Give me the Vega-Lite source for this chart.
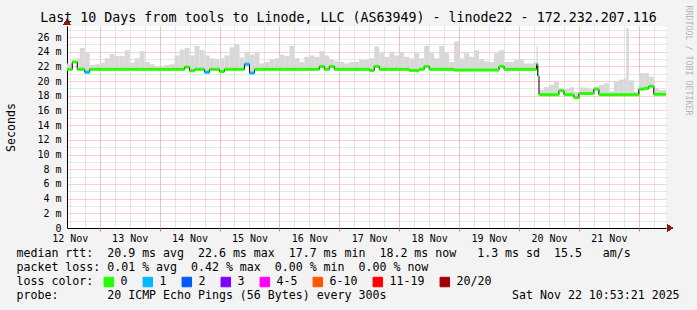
{
  "$schema": "https://vega.github.io/schema/vega-lite/v6.json",
  "width": 599,
  "height": 202,
  "autosize": {"type": "none"},
  "padding": {"left": 67, "top": 26, "right": 31, "bottom": 82},
  "background": "#f3f3f3",
  "title": {
    "text": "Last 10 Days from tools to Linode, LLC (AS63949) - linode22 - 172.232.207.116",
    "font": "DejaVu Sans Mono",
    "fontSize": 13.3,
    "fontWeight": "normal",
    "color": "#000000",
    "anchor": "middle",
    "frame": "bounds",
    "offset": -19
  },
  "config": {
    "view": {"fill": "#ffffff", "stroke": null},
    "font": "DejaVu Sans Mono",
    "axis": {"labelFont": "DejaVu Sans Mono", "titleFont": "DejaVu Sans Mono", "labelColor": "#000000", "titleColor": "#000000", "titleFontWeight": "normal"}
  },
  "data": {
    "values": [
      {"t": "2025-11-12T10:00", "t2": "2025-11-12T12:00", "med": 21.6, "hi": 22.4, "loss": "0"},
      {"t": "2025-11-12T12:00", "t2": "2025-11-12T13:00", "med": 21.6, "hi": 22.4, "loss": "0"},
      {"t": "2025-11-12T13:00", "t2": "2025-11-12T15:00", "med": 22.6, "hi": 22.7, "loss": "0"},
      {"t": "2025-11-12T15:00", "t2": "2025-11-12T16:00", "med": 21.6, "hi": 23.1, "loss": "0"},
      {"t": "2025-11-12T16:00", "t2": "2025-11-12T18:00", "med": 21.6, "hi": 24.5, "loss": "0"},
      {"t": "2025-11-12T18:00", "t2": "2025-11-12T20:00", "med": 21.2, "hi": 23.8, "loss": "1"},
      {"t": "2025-11-12T20:00", "t2": "2025-11-12T22:00", "med": 21.6, "hi": 22.2, "loss": "0"},
      {"t": "2025-11-12T22:00", "t2": "2025-11-13T00:00", "med": 21.6, "hi": 22.3, "loss": "0"},
      {"t": "2025-11-13T00:00", "t2": "2025-11-13T02:00", "med": 21.6, "hi": 22.5, "loss": "0"},
      {"t": "2025-11-13T02:00", "t2": "2025-11-13T04:00", "med": 21.6, "hi": 23.1, "loss": "0"},
      {"t": "2025-11-13T04:00", "t2": "2025-11-13T06:00", "med": 21.6, "hi": 23.7, "loss": "0"},
      {"t": "2025-11-13T06:00", "t2": "2025-11-13T08:00", "med": 21.6, "hi": 23.4, "loss": "0"},
      {"t": "2025-11-13T08:00", "t2": "2025-11-13T10:00", "med": 21.6, "hi": 23.4, "loss": "0"},
      {"t": "2025-11-13T10:00", "t2": "2025-11-13T12:00", "med": 21.6, "hi": 24.2, "loss": "0"},
      {"t": "2025-11-13T12:00", "t2": "2025-11-13T14:00", "med": 21.6, "hi": 22.5, "loss": "0"},
      {"t": "2025-11-13T14:00", "t2": "2025-11-13T16:00", "med": 21.6, "hi": 23.1, "loss": "0"},
      {"t": "2025-11-13T16:00", "t2": "2025-11-13T18:00", "med": 21.6, "hi": 24.1, "loss": "0"},
      {"t": "2025-11-13T18:00", "t2": "2025-11-13T20:00", "med": 21.6, "hi": 22.6, "loss": "0"},
      {"t": "2025-11-13T20:00", "t2": "2025-11-13T22:00", "med": 21.6, "hi": 22.3, "loss": "0"},
      {"t": "2025-11-13T22:00", "t2": "2025-11-14T00:00", "med": 21.6, "hi": 21.9, "loss": "0"},
      {"t": "2025-11-14T00:00", "t2": "2025-11-14T02:00", "med": 21.6, "hi": 21.9, "loss": "0"},
      {"t": "2025-11-14T02:00", "t2": "2025-11-14T04:00", "med": 21.6, "hi": 22.2, "loss": "0"},
      {"t": "2025-11-14T04:00", "t2": "2025-11-14T06:00", "med": 21.6, "hi": 22.3, "loss": "0"},
      {"t": "2025-11-14T06:00", "t2": "2025-11-14T08:00", "med": 21.6, "hi": 23.5, "loss": "0"},
      {"t": "2025-11-14T08:00", "t2": "2025-11-14T10:00", "med": 21.6, "hi": 24.3, "loss": "0"},
      {"t": "2025-11-14T10:00", "t2": "2025-11-14T12:00", "med": 21.9, "hi": 24.5, "loss": "0"},
      {"t": "2025-11-14T12:00", "t2": "2025-11-14T14:00", "med": 21.4, "hi": 23.5, "loss": "0"},
      {"t": "2025-11-14T14:00", "t2": "2025-11-14T16:00", "med": 21.6, "hi": 24.8, "loss": "0"},
      {"t": "2025-11-14T16:00", "t2": "2025-11-14T18:00", "med": 21.6, "hi": 24.2, "loss": "0"},
      {"t": "2025-11-14T18:00", "t2": "2025-11-14T20:00", "med": 21.2, "hi": 23.5, "loss": "1"},
      {"t": "2025-11-14T20:00", "t2": "2025-11-14T22:00", "med": 21.6, "hi": 23.1, "loss": "0"},
      {"t": "2025-11-14T22:00", "t2": "2025-11-15T00:00", "med": 21.6, "hi": 23.0, "loss": "0"},
      {"t": "2025-11-15T00:00", "t2": "2025-11-15T02:00", "med": 21.3, "hi": 23.1, "loss": "0"},
      {"t": "2025-11-15T02:00", "t2": "2025-11-15T04:00", "med": 21.6, "hi": 23.5, "loss": "0"},
      {"t": "2025-11-15T04:00", "t2": "2025-11-15T06:00", "med": 21.6, "hi": 24.6, "loss": "0"},
      {"t": "2025-11-15T06:00", "t2": "2025-11-15T08:00", "med": 21.6, "hi": 25.0, "loss": "0"},
      {"t": "2025-11-15T08:00", "t2": "2025-11-15T10:00", "med": 21.6, "hi": 23.2, "loss": "0"},
      {"t": "2025-11-15T10:00", "t2": "2025-11-15T12:00", "med": 22.3, "hi": 24.0, "loss": "1"},
      {"t": "2025-11-15T12:00", "t2": "2025-11-15T14:00", "med": 21.1, "hi": 23.6, "loss": "1"},
      {"t": "2025-11-15T14:00", "t2": "2025-11-15T16:00", "med": 21.6, "hi": 24.0, "loss": "0"},
      {"t": "2025-11-15T16:00", "t2": "2025-11-15T18:00", "med": 21.6, "hi": 22.4, "loss": "0"},
      {"t": "2025-11-15T18:00", "t2": "2025-11-15T20:00", "med": 21.6, "hi": 22.6, "loss": "0"},
      {"t": "2025-11-15T20:00", "t2": "2025-11-15T22:00", "med": 21.6, "hi": 23.0, "loss": "0"},
      {"t": "2025-11-15T22:00", "t2": "2025-11-16T00:00", "med": 21.6, "hi": 23.1, "loss": "0"},
      {"t": "2025-11-16T00:00", "t2": "2025-11-16T02:00", "med": 21.6, "hi": 23.6, "loss": "0"},
      {"t": "2025-11-16T02:00", "t2": "2025-11-16T04:00", "med": 21.6, "hi": 23.4, "loss": "0"},
      {"t": "2025-11-16T04:00", "t2": "2025-11-16T06:00", "med": 21.6, "hi": 24.8, "loss": "0"},
      {"t": "2025-11-16T06:00", "t2": "2025-11-16T08:00", "med": 21.6, "hi": 23.1, "loss": "0"},
      {"t": "2025-11-16T08:00", "t2": "2025-11-16T10:00", "med": 21.6, "hi": 22.6, "loss": "0"},
      {"t": "2025-11-16T10:00", "t2": "2025-11-16T12:00", "med": 21.6, "hi": 23.3, "loss": "0"},
      {"t": "2025-11-16T12:00", "t2": "2025-11-16T14:00", "med": 21.6, "hi": 23.5, "loss": "0"},
      {"t": "2025-11-16T14:00", "t2": "2025-11-16T16:00", "med": 21.6, "hi": 23.3, "loss": "0"},
      {"t": "2025-11-16T16:00", "t2": "2025-11-16T18:00", "med": 22.0, "hi": 24.1, "loss": "0"},
      {"t": "2025-11-16T18:00", "t2": "2025-11-16T20:00", "med": 21.6, "hi": 23.5, "loss": "0"},
      {"t": "2025-11-16T20:00", "t2": "2025-11-16T22:00", "med": 22.0, "hi": 23.0, "loss": "0"},
      {"t": "2025-11-16T22:00", "t2": "2025-11-17T00:00", "med": 21.6, "hi": 22.7, "loss": "0"},
      {"t": "2025-11-17T00:00", "t2": "2025-11-17T02:00", "med": 21.6, "hi": 22.6, "loss": "0"},
      {"t": "2025-11-17T02:00", "t2": "2025-11-17T04:00", "med": 21.6, "hi": 22.4, "loss": "0"},
      {"t": "2025-11-17T04:00", "t2": "2025-11-17T06:00", "med": 21.6, "hi": 22.6, "loss": "0"},
      {"t": "2025-11-17T06:00", "t2": "2025-11-17T08:00", "med": 21.6, "hi": 22.6, "loss": "0"},
      {"t": "2025-11-17T08:00", "t2": "2025-11-17T10:00", "med": 21.6, "hi": 22.9, "loss": "0"},
      {"t": "2025-11-17T10:00", "t2": "2025-11-17T12:00", "med": 21.6, "hi": 22.9, "loss": "0"},
      {"t": "2025-11-17T12:00", "t2": "2025-11-17T14:00", "med": 21.45, "hi": 23.1, "loss": "0"},
      {"t": "2025-11-17T14:00", "t2": "2025-11-17T16:00", "med": 22.0, "hi": 24.7, "loss": "0"},
      {"t": "2025-11-17T16:00", "t2": "2025-11-17T18:00", "med": 21.6, "hi": 23.8, "loss": "0"},
      {"t": "2025-11-17T18:00", "t2": "2025-11-17T20:00", "med": 21.6, "hi": 23.3, "loss": "0"},
      {"t": "2025-11-17T20:00", "t2": "2025-11-17T22:00", "med": 21.6, "hi": 24.0, "loss": "0"},
      {"t": "2025-11-17T22:00", "t2": "2025-11-18T00:00", "med": 21.6, "hi": 23.5, "loss": "0"},
      {"t": "2025-11-18T00:00", "t2": "2025-11-18T02:00", "med": 21.6, "hi": 23.9, "loss": "0"},
      {"t": "2025-11-18T02:00", "t2": "2025-11-18T04:00", "med": 21.6, "hi": 23.3, "loss": "0"},
      {"t": "2025-11-18T04:00", "t2": "2025-11-18T06:00", "med": 21.45, "hi": 23.1, "loss": "0"},
      {"t": "2025-11-18T06:00", "t2": "2025-11-18T08:00", "med": 21.45, "hi": 23.8, "loss": "0"},
      {"t": "2025-11-18T08:00", "t2": "2025-11-18T10:00", "med": 21.6, "hi": 23.1, "loss": "0"},
      {"t": "2025-11-18T10:00", "t2": "2025-11-18T12:00", "med": 22.0, "hi": 24.8, "loss": "0"},
      {"t": "2025-11-18T12:00", "t2": "2025-11-18T14:00", "med": 21.6, "hi": 23.8, "loss": "0"},
      {"t": "2025-11-18T14:00", "t2": "2025-11-18T16:00", "med": 21.6, "hi": 23.1, "loss": "0"},
      {"t": "2025-11-18T16:00", "t2": "2025-11-18T18:00", "med": 21.6, "hi": 24.8, "loss": "0"},
      {"t": "2025-11-18T18:00", "t2": "2025-11-18T20:00", "med": 21.6, "hi": 23.8, "loss": "0"},
      {"t": "2025-11-18T20:00", "t2": "2025-11-18T22:00", "med": 21.6, "hi": 22.6, "loss": "0"},
      {"t": "2025-11-18T22:00", "t2": "2025-11-19T00:00", "med": 21.5, "hi": 25.4, "loss": "0"},
      {"t": "2025-11-19T00:00", "t2": "2025-11-19T02:00", "med": 21.5, "hi": 23.1, "loss": "0"},
      {"t": "2025-11-19T02:00", "t2": "2025-11-19T04:00", "med": 21.5, "hi": 23.8, "loss": "0"},
      {"t": "2025-11-19T04:00", "t2": "2025-11-19T06:00", "med": 21.5, "hi": 23.3, "loss": "0"},
      {"t": "2025-11-19T06:00", "t2": "2025-11-19T08:00", "med": 21.5, "hi": 24.2, "loss": "0"},
      {"t": "2025-11-19T08:00", "t2": "2025-11-19T10:00", "med": 21.5, "hi": 23.0, "loss": "0"},
      {"t": "2025-11-19T10:00", "t2": "2025-11-19T12:00", "med": 21.5, "hi": 22.7, "loss": "0"},
      {"t": "2025-11-19T12:00", "t2": "2025-11-19T14:00", "med": 21.5, "hi": 22.6, "loss": "0"},
      {"t": "2025-11-19T14:00", "t2": "2025-11-19T16:00", "med": 21.5, "hi": 23.8, "loss": "0"},
      {"t": "2025-11-19T16:00", "t2": "2025-11-19T18:00", "med": 22.0, "hi": 24.2, "loss": "0"},
      {"t": "2025-11-19T18:00", "t2": "2025-11-19T20:00", "med": 21.6, "hi": 22.6, "loss": "0"},
      {"t": "2025-11-19T20:00", "t2": "2025-11-19T22:00", "med": 21.6, "hi": 22.6, "loss": "0"},
      {"t": "2025-11-19T22:00", "t2": "2025-11-20T00:00", "med": 21.6, "hi": 22.9, "loss": "0"},
      {"t": "2025-11-20T00:00", "t2": "2025-11-20T02:00", "med": 21.6, "hi": 23.0, "loss": "0"},
      {"t": "2025-11-20T02:00", "t2": "2025-11-20T04:00", "med": 21.6, "hi": 22.4, "loss": "0"},
      {"t": "2025-11-20T04:00", "t2": "2025-11-20T06:00", "med": 21.6, "hi": 22.4, "loss": "0"},
      {"t": "2025-11-20T06:00", "t2": "2025-11-20T07:00", "med": 21.6, "hi": 22.6, "loss": "0"},
      {"t": "2025-11-20T07:00", "t2": "2025-11-20T07:30", "med": 22.3, "hi": 24.7, "loss": "0"},
      {"t": "2025-11-20T07:30", "t2": "2025-11-20T08:00", "med": 20.7, "hi": 22.0, "loss": "0"},
      {"t": "2025-11-20T08:00", "t2": "2025-11-20T10:00", "med": 18.15, "hi": 18.8, "loss": "0"},
      {"t": "2025-11-20T10:00", "t2": "2025-11-20T12:00", "med": 18.15, "hi": 19.2, "loss": "0"},
      {"t": "2025-11-20T12:00", "t2": "2025-11-20T14:00", "med": 18.15, "hi": 19.5, "loss": "0"},
      {"t": "2025-11-20T14:00", "t2": "2025-11-20T16:00", "med": 18.15, "hi": 19.9, "loss": "0"},
      {"t": "2025-11-20T16:00", "t2": "2025-11-20T18:00", "med": 18.7, "hi": 19.0, "loss": "0"},
      {"t": "2025-11-20T18:00", "t2": "2025-11-20T20:00", "med": 18.15, "hi": 18.9, "loss": "0"},
      {"t": "2025-11-20T20:00", "t2": "2025-11-20T22:00", "med": 18.15, "hi": 19.15, "loss": "0"},
      {"t": "2025-11-20T22:00", "t2": "2025-11-21T00:00", "med": 17.75, "hi": 18.55, "loss": "0"},
      {"t": "2025-11-21T00:00", "t2": "2025-11-21T02:00", "med": 18.3, "hi": 19.15, "loss": "0"},
      {"t": "2025-11-21T02:00", "t2": "2025-11-21T04:00", "med": 18.3, "hi": 19.1, "loss": "0"},
      {"t": "2025-11-21T04:00", "t2": "2025-11-21T06:00", "med": 18.3, "hi": 18.9, "loss": "0"},
      {"t": "2025-11-21T06:00", "t2": "2025-11-21T08:00", "med": 18.9, "hi": 19.2, "loss": "0"},
      {"t": "2025-11-21T08:00", "t2": "2025-11-21T10:00", "med": 18.15, "hi": 19.5, "loss": "0"},
      {"t": "2025-11-21T10:00", "t2": "2025-11-21T12:00", "med": 18.15, "hi": 19.7, "loss": "0"},
      {"t": "2025-11-21T12:00", "t2": "2025-11-21T14:00", "med": 18.15, "hi": 18.6, "loss": "0"},
      {"t": "2025-11-21T14:00", "t2": "2025-11-21T16:00", "med": 18.15, "hi": 19.9, "loss": "0"},
      {"t": "2025-11-21T16:00", "t2": "2025-11-21T18:00", "med": 18.15, "hi": 20.2, "loss": "0"},
      {"t": "2025-11-21T18:00", "t2": "2025-11-21T19:00", "med": 18.15, "hi": 20.4, "loss": "0"},
      {"t": "2025-11-21T19:00", "t2": "2025-11-21T20:00", "med": 18.15, "hi": 27.2, "loss": "0"},
      {"t": "2025-11-21T20:00", "t2": "2025-11-21T22:00", "med": 18.15, "hi": 20.1, "loss": "0"},
      {"t": "2025-11-21T22:00", "t2": "2025-11-22T00:00", "med": 18.15, "hi": 18.55, "loss": "0"},
      {"t": "2025-11-22T00:00", "t2": "2025-11-22T02:00", "med": 18.9, "hi": 21.1, "loss": "0"},
      {"t": "2025-11-22T02:00", "t2": "2025-11-22T04:00", "med": 19.0, "hi": 21.1, "loss": "0"},
      {"t": "2025-11-22T04:00", "t2": "2025-11-22T06:00", "med": 19.3, "hi": 20.6, "loss": "0"},
      {"t": "2025-11-22T06:00", "t2": "2025-11-22T08:00", "med": 18.2, "hi": 19.0, "loss": "0"},
      {"t": "2025-11-22T08:00", "t2": "2025-11-22T10:00", "med": 18.2, "hi": 18.8, "loss": "0"},
      {"t": "2025-11-22T10:00", "t2": "2025-11-22T12:00", "med": 18.2, "hi": 18.8, "loss": "0"}
    ]
  },
  "resolve": {"axis": {"x": "independent", "y": "independent"}},
  "layer": [
    {
      "mark": {"type": "rect", "color": "#d8d8d8", "clip": true},
      "encoding": {
        "x": {
          "field": "t",
          "type": "temporal",
          "scale": {"domain": [
            {"year": 2025, "month": 11, "date": 12, "hours": 10, "minutes": 53, "seconds": 21},
            {"year": 2025, "month": 11, "date": 22, "hours": 10, "minutes": 53, "seconds": 21}
          ]},
          "axis": {
            "orient": "bottom",
            "tickCount": 40,
            "labelExpr": "hours(datum.value) === 12 ? timeFormat(datum.value, '%d %b') : ''",
            "labelFontSize": 10,
            "labelPadding": 5,
            "labelOverlap": false,
            "labelFlush": false,
            "grid": true,
            "gridColor": "#cfcfcf",
            "gridDash": [1, 1],
            "ticks": false,
            "domainColor": "#000000",
            "title": [
              "median rtt:\u00a0\u00a020.9 ms avg\u00a0\u00a022.6 ms max\u00a0\u00a017.7 ms min\u00a0\u00a018.2 ms now\u00a0\u00a0\u00a01.3 ms sd\u00a0\u00a015.5\u00a0\u00a0\u00a0am/s",
              "packet loss: 0.01 % avg\u00a0\u00a00.42 % max\u00a0\u00a00.00 % min\u00a0\u00a00.00 % now",
              "loss color:",
              "probe:\u00a0\u00a0\u00a0\u00a0\u00a0\u00a0\u00a020 ICMP Echo Pings (56 Bytes) every 300s\u00a0\u00a0\u00a0\u00a0\u00a0\u00a0\u00a0\u00a0\u00a0\u00a0\u00a0\u00a0\u00a0\u00a0\u00a0\u00a0\u00a0\u00a0Sat Nov 22 10:53:21 2025"
            ],
            "titleFontSize": 11.6,
            "titleAlign": "left",
            "titleAnchor": "start",
            "titleBaseline": "top",
            "titleLineHeight": 14,
            "titleLimit": 1000,
            "titleX": -51,
            "titleY": 19.5
          }
        },
        "x2": {"field": "t2"},
        "y": {
          "field": "med",
          "type": "quantitative",
          "scale": {"domain": [0, 27.5], "nice": false, "zero": false},
          "axis": {
            "orient": "left",
            "values": [0, 1, 3, 5, 7, 9, 11, 13, 15, 17, 19, 21, 23, 25, 27],
            "labelExpr": "datum.value === 0 ? '0' : ''",
            "labelFontSize": 10,
            "labelPadding": 6,
            "labelOverlap": false,
            "ticks": false,
            "grid": true,
            "gridColor": "#cfcfcf",
            "gridDash": [1, 1],
            "domainColor": "#000000",
            "title": "Seconds",
            "titleFontSize": 11.6,
            "titleAlign": "center",
            "titleBaseline": "middle",
            "titleX": -56,
            "titleY": 101
          }
        },
        "y2": {"field": "hi"}
      }
    },
    {
      "mark": {"type": "line", "interpolate": "step-after", "color": "#000000", "strokeWidth": 1, "clip": true},
      "encoding": {
        "x": {"field": "t", "type": "temporal", "axis": null},
        "y": {
          "field": "med",
          "type": "quantitative",
          "axis": {
            "orient": "right",
            "labels": false,
            "ticks": false,
            "domain": false,
            "grid": false,
            "title": "RRDTOOL / TOBI OETIKER",
            "titleFontSize": 8.3,
            "titleColor": "#b5b5b5",
            "titleAngle": 90,
            "titleAlign": "center",
            "titleBaseline": "middle",
            "titleX": 21,
            "titleY": 34
          }
        }
      }
    },
    {
      "mark": {"type": "rule", "strokeWidth": 3, "strokeCap": "butt", "clip": true},
      "encoding": {
        "x": {
          "field": "t",
          "type": "temporal",
          "axis": {
            "orient": "bottom",
            "tickCount": 10,
            "labels": false,
            "domain": false,
            "grid": true,
            "gridColor": "#ff9b9b",
            "gridDash": [1, 1],
            "ticks": true,
            "tickSize": 3,
            "tickColor": "#ff7070",
            "title": null
          }
        },
        "x2": {"field": "t2"},
        "y": {
          "field": "med",
          "type": "quantitative",
          "axis": {
            "orient": "left",
            "values": [2, 4, 6, 8, 10, 12, 14, 16, 18, 20, 22, 24, 26],
            "labelExpr": "datum.value + ' m'",
            "labelFontSize": 10,
            "labelPadding": 6,
            "labelOverlap": false,
            "ticks": false,
            "domain": false,
            "grid": true,
            "gridColor": "#ff9b9b",
            "gridDash": [1, 1],
            "title": null
          }
        },
        "stroke": {
          "field": "loss",
          "type": "nominal",
          "scale": {
            "domain": ["0", "1", "2", "3", "4-5", "6-10", "11-19", "20/20"],
            "range": ["#26ff00", "#00b8ff", "#0059ff", "#7e00ff", "#ff00ff", "#ff5500", "#ff0000", "#a10000"]
          },
          "legend": null
        },
        "fill": {
          "field": "loss",
          "type": "nominal",
          "scale": {
            "domain": ["0", "1", "2", "3", "4-5", "6-10", "11-19", "20/20"],
            "range": ["#26ff00", "#00b8ff", "#0059ff", "#7e00ff", "#ff00ff", "#ff5500", "#ff0000", "#a10000"]
          },
          "legend": {
            "orient": "none",
            "legendX": 36,
            "legendY": 250,
            "direction": "horizontal",
            "title": null,
            "padding": 0,
            "symbolType": "square",
            "symbolSize": 90,
            "symbolStrokeColor": "#000000",
            "symbolStrokeWidth": 1,
            "symbolOpacity": 1,
            "labelFont": "DejaVu Sans Mono",
            "labelFontSize": 11.6,
            "labelColor": "#000000",
            "labelOffset": 6,
            "columnPadding": 13
          }
        }
      }
    },
    {
      "mark": {"type": "point", "shape": "triangle-up", "filled": true, "size": 40, "color": "#8b1a1a", "opacity": 1, "yOffset": -4, "clip": false},
      "encoding": {
        "x": {"datum": {"year": 2025, "month": 11, "date": 12, "hours": 10, "minutes": 53, "seconds": 21}, "type": "temporal", "axis": null},
        "y": {"datum": 27.5, "type": "quantitative", "axis": null}
      }
    },
    {
      "mark": {"type": "point", "shape": "triangle-right", "filled": true, "size": 40, "color": "#8b1a1a", "opacity": 1, "xOffset": 4, "clip": false},
      "encoding": {
        "x": {"datum": {"year": 2025, "month": 11, "date": 22, "hours": 10, "minutes": 53, "seconds": 21}, "type": "temporal", "axis": null},
        "y": {"datum": 0, "type": "quantitative", "axis": null}
      }
    }
  ]
}
